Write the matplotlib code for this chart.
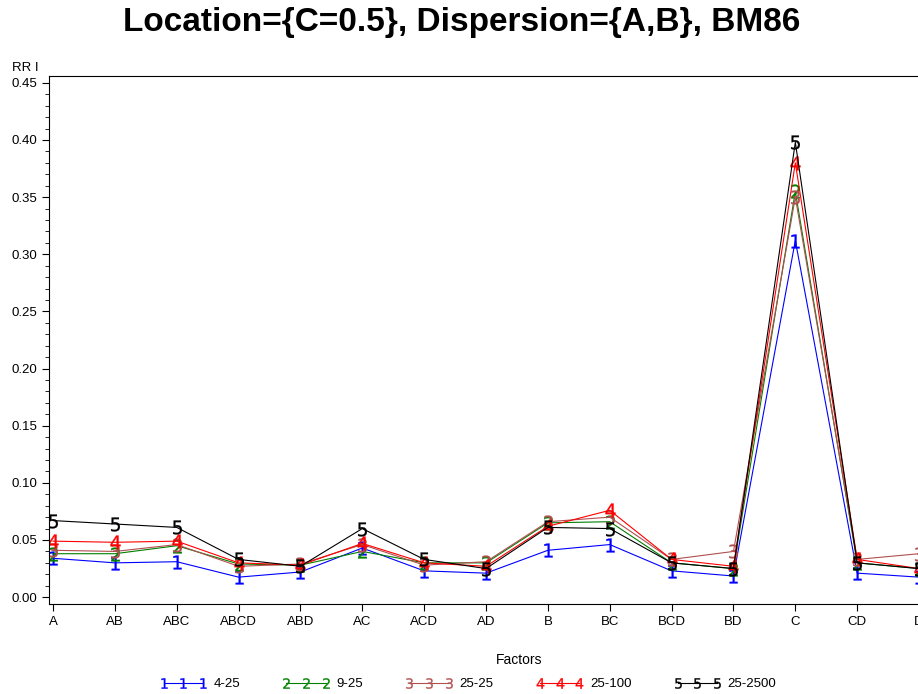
import numpy as np
import matplotlib.pyplot as plt
from matplotlib.ticker import MultipleLocator, FormatStrFormatter

plt.rcParams['font.family'] = ['Liberation Sans', 'DejaVu Sans']

factors = ['A', 'AB', 'ABC', 'ABCD', 'ABD', 'AC', 'ACD', 'AD',
           'B', 'BC', 'BCD', 'BD', 'C', 'CD', 'D']

rr_4_25 = [0.034, 0.030, 0.031, 0.0175, 0.022, 0.043, 0.023, 0.021,
           0.041, 0.046, 0.023, 0.0185, 0.312, 0.021, 0.0175]
rr_9_25 = [0.038, 0.038, 0.045, 0.029, 0.028, 0.040, 0.030, 0.030,
           0.065, 0.066, 0.030, 0.025, 0.355, 0.030, 0.025]
rr_25_25 = [0.041, 0.040, 0.046, 0.027, 0.029, 0.046, 0.028, 0.031,
            0.066, 0.070, 0.033, 0.040, 0.350, 0.033, 0.038]
rr_25_100 = [0.049, 0.048, 0.049, 0.030, 0.028, 0.047, 0.030, 0.027,
             0.062, 0.076, 0.033, 0.027, 0.380, 0.033, 0.025]
rr_25_2500 = [0.067, 0.064, 0.061, 0.033, 0.027, 0.060, 0.033, 0.025,
              0.061, 0.060, 0.030, 0.025, 0.398, 0.030, 0.025]

series = [
    (rr_4_25, '4-25', '#0000ff', '1'),
    (rr_9_25, '9-25', '#008000', '2'),
    (rr_25_25, '25-25', '#b05050', '3'),
    (rr_25_100, '25-100', '#ff0000', '4'),
    (rr_25_2500, '25-2500', '#000000', '5'),
]

fig = plt.figure(figsize=(9.18, 6.94), dpi=100)
# axes run past the right edge of the image, like the original
ax = fig.add_axes([49 / 918, 1 - 604 / 694, (990 - 49) / 918, (604 - 76) / 694])

x = np.arange(len(factors))
for vals, lab, col, mk in series:
    ax.plot(x, vals, color=col, linewidth=0.8, marker='$' + mk + '$',
            markersize=10, markeredgewidth=0.2, label=lab)

ax.set_xlim(-0.065, (990 - 53) / 61.86)
ax.set_ylim(-0.006, 0.456)
ax.set_xticks(x)
ax.set_xticklabels(factors, fontsize=9)
ax.yaxis.set_major_locator(MultipleLocator(0.05))
ax.yaxis.set_minor_locator(MultipleLocator(0.01))
ax.yaxis.set_major_formatter(FormatStrFormatter('%.2f'))
ax.tick_params(axis='both', direction='out', labelsize=9.5, length=5)
ax.tick_params(axis='y', which='minor', direction='out', length=3)

ax.set_xlabel('Factors', fontsize=10, labelpad=18)
fig.text(12 / 918, 1 - 68 / 694, 'RR I', fontsize=9.5, va='center', ha='left')
fig.suptitle('Location={C=0.5}, Dispersion={A,B}, BM86', fontsize=24,
             fontweight='bold', x=462 / 918, y=1 - 22 / 694, va='center')

ax.legend(loc='center', bbox_to_anchor=(0.5 + 9 / 918, 1 - 684 / 694),
          bbox_transform=fig.transFigure,
          ncol=5, frameon=False, numpoints=3, handlelength=3.6, fontsize=9.5,
          columnspacing=3.2, handletextpad=0.5, markerscale=0.75)

plt.savefig('out.png', dpi=100)
